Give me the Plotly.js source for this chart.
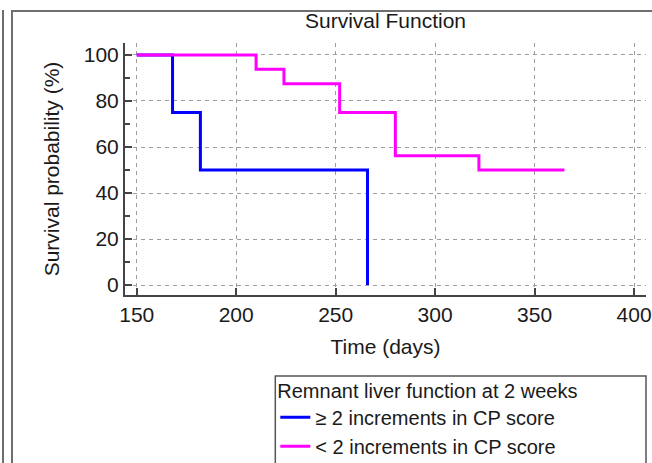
<!DOCTYPE html>
<html>
<head>
<meta charset="utf-8">
<script src="https://cdn.plot.ly/plotly-3.0.1.min.js"></script>
<style>
  html, body { margin: 0; padding: 0; background: #fff; }
  #wrap { position: relative; width: 652px; height: 463px; overflow: hidden; }
  #chart { position: absolute; left: 0; top: 0; width: 652px; height: 463px; }
  .frame1 { position: absolute; left: 2px; top: 10px; width: 0; height: 460px; border-left: 2px solid #6e6e6e; pointer-events: none; }
  .frame2 { position: absolute; left: 11px; top: 10px; width: 700px; height: 460px; border-left: 2px solid #6e6e6e; border-top: 2px solid #6e6e6e; pointer-events: none; }
</style>
</head>
<body>
<div id="wrap">
  <div id="chart"></div>
  <div class="frame1"></div>
  <div class="frame2"></div>
</div>
<script>
// Data
const seriesNames = ["\u2265 2 increments in CP score", "< 2 increments in CP score"];
const highTime = [150, 168, 182, 266];
const highSurv = [100, 75, 50, 0];
const lowTime = [150, 210, 224, 252, 280, 322, 365];
const lowSurv = [100, 93.75, 87.5, 75, 56.25, 50, 50];
const xTicks = [150, 200, 250, 300, 350, 400];
const yTicks = [0, 20, 40, 60, 80, 100];

const FONT = "Liberation Sans, Arial, sans-serif";
const TXT = "#1a1a1a";
const FS = 21;
const LFS = 20;

const traces = [
  { x: highTime, y: highSurv, name: seriesNames[0], mode: "lines",
    line: { shape: "hv", color: "#0000ff", width: 3 } },
  { x: lowTime, y: lowSurv, name: seriesNames[1], mode: "lines",
    line: { shape: "hv", color: "#ff00ff", width: 3 } }
];

const layout = {
  width: 652, height: 463,
  paper_bgcolor: "#ffffff", plot_bgcolor: "#ffffff",
  margin: { l: 125, r: 6, t: 43, b: 168, autoexpand: false },
  font: { family: FONT, size: FS, color: TXT },
  title: { text: "Survival Function", font: { family: FONT, size: FS, color: TXT },
           x: 0.5, xref: "paper", xanchor: "center", y: 0.955, yanchor: "middle" },
  xaxis: {
    range: [144.1, 406], tickvals: xTicks, ticktext: xTicks.map(String),
    showline: true, linecolor: "#444", linewidth: 2,
    ticks: "inside", ticklen: 7, tickwidth: 2, tickcolor: "#444",
    showgrid: true, gridcolor: "#9e9e9e", gridwidth: 1, griddash: "4px,4px",
    zeroline: false, mirror: false,
    tickfont: { family: FONT, size: FS, color: TXT },
    title: { text: "Time (days)", font: { family: FONT, size: FS, color: TXT }, standoff: 14 }
  },
  yaxis: {
    range: [-4.3, 105.2], tickvals: yTicks, ticktext: yTicks.map(String),
    showline: true, linecolor: "#444", linewidth: 2,
    ticks: "inside", ticklen: 7, tickwidth: 2, tickcolor: "#444",
    minor: { ticks: "inside", ticklen: 5, tickwidth: 1.5, tickcolor: "#444", dtick: 20, tick0: 10, showgrid: false },
    showgrid: true, gridcolor: "#9e9e9e", gridwidth: 1, griddash: "4px,4px",
    zeroline: false, mirror: false,
    tickfont: { family: FONT, size: FS, color: TXT },
    title: { text: "Survival probability (%)", font: { family: FONT, size: FS, color: TXT }, standoff: 18 }
  },
  showlegend: true,
  legend: {
    x: 0.2885, xanchor: "left", y: -0.305, yanchor: "top",
    borderwidth: 0, bgcolor: "rgba(0,0,0,0)",
    font: { family: FONT, size: LFS, color: TXT },
    title: { text: "Remnant liver function at 2 weeks", font: { family: FONT, size: LFS, color: TXT } },
    tracegroupgap: 0, itemwidth: 30
  },
  shapes: [
    { type: "rect", xref: "paper", yref: "paper",
      x0: 0.2885, x1: 1.0, y0: -0.321, y1: -0.8,
      line: { color: "#555", width: 1.5 }, fillcolor: "rgba(0,0,0,0)", layer: "above" }
  ]
};

Plotly.newPlot("chart", traces, layout, { displayModeBar: false, staticPlot: true });
</script>
</body>
</html>
